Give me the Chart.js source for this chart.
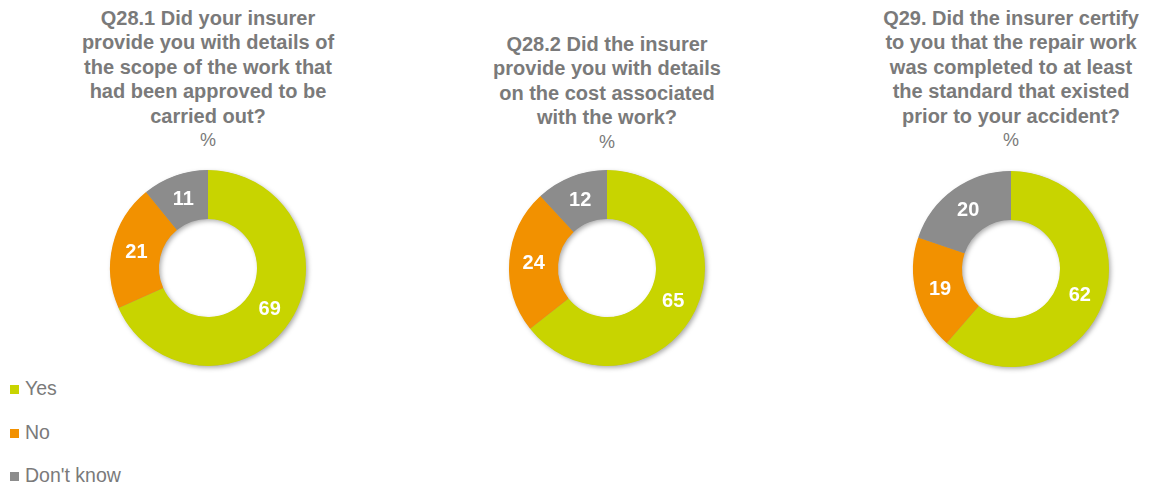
<!DOCTYPE html>
<html>
<head>
<meta charset="utf-8">
<script src="https://cdn.jsdelivr.net/npm/chart.js@4.4.0/dist/chart.umd.min.js"></script>
<style>
  html, body { margin:0; padding:0; background:#fff; width:1151px; height:487px; overflow:hidden; }
  body { position:relative; font-family:"Liberation Sans", Arial, sans-serif; }
  .title { position:absolute; width:340px; text-align:center; color:#7a7a7a; font-weight:bold; font-size:20px; line-height:24.4px; white-space:nowrap; }
  .title .pct { font-weight:normal; font-size:18px; }
  .wrap { position:absolute; width:210px; height:210px; }
  .legend { position:absolute; left:10px; top:376px; color:#7a7a7a; font-size:19.5px; }
  .legend .item { position:absolute; left:0; white-space:nowrap; height:24px; line-height:24px; }
  .legend .sw { display:inline-block; width:9px; height:9px; margin-right:6px; vertical-align:1px; }
</style>
</head>
<body>
<div class="title" id="t0" style="left:38px; top:6px;"></div>
<div class="title" id="t1" style="left:437px; top:32px;"></div>
<div class="title" id="t2" style="left:841px; top:6px;"></div>

<div class="wrap" style="left:103px; top:163px;"><canvas id="c0" width="210" height="210"></canvas></div>
<div class="wrap" style="left:502px; top:163px;"><canvas id="c1" width="210" height="210"></canvas></div>
<div class="wrap" style="left:906px; top:164px;"><canvas id="c2" width="210" height="210"></canvas></div>

<div class="legend" id="legend"></div>

<script>
const categories = ['Yes', 'No', "Don't know"];
const q281Values = [69, 21, 11];
const q282Values = [65, 24, 12];
const q29Values = [62, 19, 20];
const colors = ['#c8d400', '#f29100', '#8c8c8c'];
const q281Title = ['Q28.1 Did your insurer', 'provide you with details of', 'the scope of the work that', 'had been approved to be', 'carried out?'];
const q282Title = ['Q28.2 Did the insurer', 'provide you with details', 'on the cost associated', 'with the work?'];
const q29Title = ['Q29. Did the insurer certify', 'to you that the repair work', 'was completed to at least', 'the standard that existed', 'prior to your accident?'];
const unitLabel = '%';

const titles = [q281Title, q282Title, q29Title];
const series = [q281Values, q282Values, q29Values];

titles.forEach((lines, i) => {
  const el = document.getElementById('t' + i);
  lines.forEach(l => { const d = document.createElement('div'); d.textContent = l; el.appendChild(d); });
  const p = document.createElement('div'); p.className = 'pct'; p.textContent = unitLabel; el.appendChild(p);
});

const legendEl = document.getElementById('legend');
const legendTops = [0, 44, 87];
categories.forEach((c, i) => {
  const it = document.createElement('div');
  it.className = 'item';
  it.style.top = legendTops[i] + 'px';
  const sw = document.createElement('span'); sw.className = 'sw'; sw.style.background = colors[i];
  it.appendChild(sw);
  it.appendChild(document.createTextNode(c));
  legendEl.appendChild(it);
});

const shadowPlugin = {
  id: 'ringShadow',
  beforeDatasetsDraw(chart) {
    const arc = chart.getDatasetMeta(0).data[0];
    if (!arc) return;
    const { x, y, outerRadius, innerRadius } = arc.getProps(['x','y','outerRadius','innerRadius'], true);
    const ctx = chart.ctx;
    ctx.save();
    ctx.shadowColor = 'rgba(0,0,0,0.35)';
    ctx.shadowBlur = 5;
    ctx.shadowOffsetX = 2;
    ctx.shadowOffsetY = 2;
    ctx.beginPath();
    ctx.arc(x, y, outerRadius - 0.5, 0, Math.PI * 2, false);
    ctx.arc(x, y, innerRadius + 0.5, Math.PI * 2, 0, true);
    ctx.closePath();
    ctx.fillStyle = '#999';
    ctx.fill('evenodd');
    ctx.restore();
  }
};

const valueLabels = {
  id: 'valueLabels',
  afterDatasetsDraw(chart) {
    const ctx = chart.ctx;
    const meta = chart.getDatasetMeta(0);
    const data = chart.data.datasets[0].data;
    ctx.save();
    ctx.fillStyle = '#ffffff';
    ctx.font = 'bold 20px "Liberation Sans", Arial, sans-serif';
    ctx.textAlign = 'center';
    ctx.textBaseline = 'middle';
    meta.data.forEach((el, i) => {
      const pos = el.tooltipPosition();
      ctx.fillText(String(data[i]), pos.x, pos.y + 1);
    });
    ctx.restore();
  }
};

series.forEach((vals, i) => {
  new Chart(document.getElementById('c' + i), {
    type: 'doughnut',
    data: {
      labels: categories,
      datasets: [{ data: vals, backgroundColor: colors, borderWidth: 0 }]
    },
    options: {
      responsive: false,
      animation: false,
      cutout: '50%',
      layout: { padding: 7 },
      plugins: { legend: { display: false }, tooltip: { enabled: false }, title: { display: false } }
    },
    plugins: [shadowPlugin, valueLabels]
  });
});
</script>
</body>
</html>
